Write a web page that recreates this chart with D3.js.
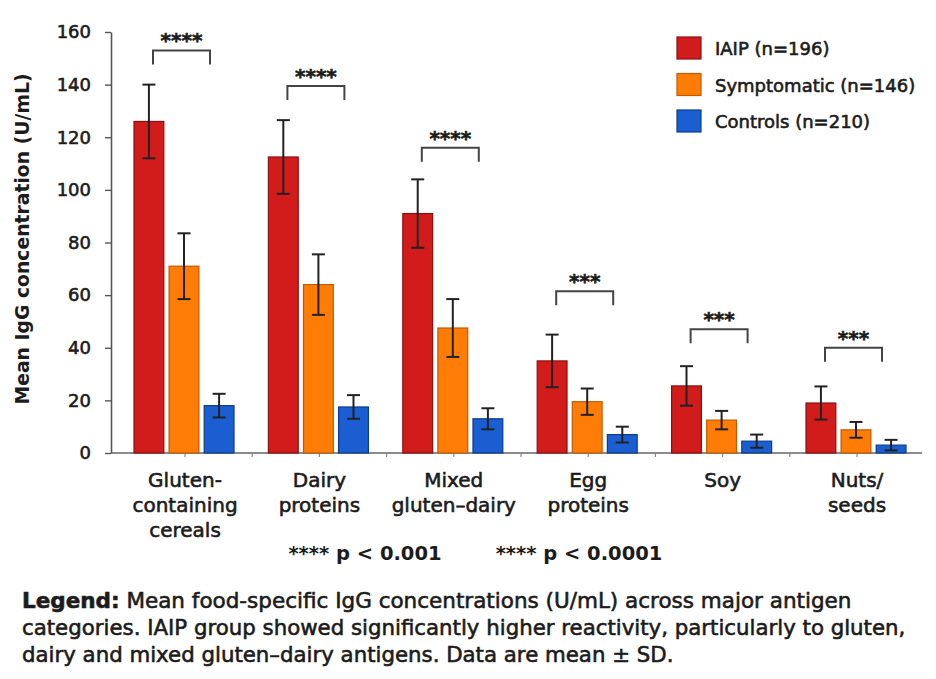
<!DOCTYPE html>
<html>
<head>
<meta charset="utf-8">
<script src="https://cdn.jsdelivr.net/npm/d3@7"></script>
<style>
  body { margin: 0; background: #fff; }
  text { font-family: "DejaVu Sans", sans-serif; fill: #1c1c1c; }
  .med { paint-order: stroke; stroke: #1c1c1c; stroke-width: 0.6px; }
</style>
</head>
<body>
<script>
// datos
const categorias = ["Gluten-containing cereals", "Dairy proteins", "Mixed gluten–dairy", "Egg proteins", "Soy", "Nuts/seeds"];
const etiquetas = [["Gluten-", "containing", "cereals"], ["Dairy", "proteins"], ["Mixed", "gluten–dairy"], ["Egg", "proteins"], ["Soy"], ["Nuts/", "seeds"]];
const series = ["IAIP (n=196)", "Symptomatic (n=146)", "Controls (n=210)"];
const iaipMedia = [126, 112.5, 91, 35, 25.5, 19];
const iaipDE = [14, 14, 13, 10, 7.5, 6.3];
const sintMedia = [71, 64, 47.5, 19.5, 12.5, 8.8];
const sintDE = [12.5, 11.5, 11, 5, 3.5, 3];
const ctrlMedia = [18, 17.5, 13, 7, 4.5, 3];
const ctrlDE = [4.5, 4.5, 4, 3, 2.5, 2];
const corchetes = [153, 139.5, 116, 61.5, 47, 40];
const estrellas = ["****", "****", "****", "***", "***", "***"];
const ticksY = [0, 20, 40, 60, 80, 100, 120, 140, 160];
const notaP = ["**** p < 0.001", "**** p < 0.0001"];
const leyendaTexto = [
    "Mean food-specific IgG concentrations (U/mL) across major antigen",
    "categories. IAIP group showed significantly higher reactivity, particularly to gluten,",
    "dairy and mixed gluten–dairy antigens. Data are mean ± SD."
];

const WIDTH = 936;
const HEIGHT = 679;
const MARGIN = { top: 32, right: 11, bottom: 226, left: 111 };

const colores = ["#d21c1c", "#ff7c06", "#1a5ed2"];
const bordes = ["#8c1010", "#c25a00", "#0d3c8e"];

const medias = [iaipMedia, sintMedia, ctrlMedia];
const desvios = [iaipDE, sintDE, ctrlDE];

const svg = d3.select("body")
    .append("svg")
    .attr("width", WIDTH)
    .attr("height", HEIGHT);

const g = svg.append("g")
    .attr("transform", `translate(${MARGIN.left} 0)`);

const x = d3.scaleBand()
    .domain(categorias)
    .range([6.8, 813.2])
    .padding(0);

const xInterno = d3.scaleBand()
    .domain(series)
    .range([-51, 49])
    .paddingInner(0.15);

const y = d3.scaleLinear()
    .domain([0, 160])
    .range([HEIGHT - MARGIN.bottom, MARGIN.top]);

const centro = (c) => x(c) + x.bandwidth() / 2;

// eje y
const ejeY = g.append("g")
    .call(d3.axisLeft(y).tickValues(ticksY).tickSize(6).tickPadding(14).tickSizeOuter(0));
ejeY.select(".domain").attr("stroke", "#555").attr("stroke-width", 1.6);
ejeY.selectAll(".tick line").attr("stroke", "#555").attr("stroke-width", 1.4);
ejeY.selectAll(".tick text")
    .attr("class", "med")
    .attr("font-size", 18)
    .attr("fill", "#1c1c1c");

// eje x: línea base y marcas
g.append("line")
    .attr("x1", 0)
    .attr("x2", x.range()[1] - 2)
    .attr("y1", y(0))
    .attr("y2", y(0))
    .attr("stroke", "#666")
    .attr("stroke-width", 1.6);

const marcas = categorias.map(centro).concat(categorias.slice(1).map((c) => x(c)));
g.selectAll(".marca")
    .data(marcas)
    .join("line")
    .attr("class", "marca")
    .attr("x1", (d) => d)
    .attr("x2", (d) => d)
    .attr("y1", y(0))
    .attr("y2", y(0) + 4)
    .attr("stroke", "#888")
    .attr("stroke-width", 1.2);

// barras
const datosBarras = [];
categorias.forEach((c, i) => {
    series.forEach((s, j) => {
        datosBarras.push({ cat: c, serie: s, j: j, media: medias[j][i], de: desvios[j][i] });
    });
});

const grupos = g.selectAll(".barra")
    .data(datosBarras)
    .join("g")
    .attr("class", "barra")
    .attr("transform", (d) => `translate(${centro(d.cat) + xInterno(d.serie)} 0)`);

grupos.append("rect")
    .attr("x", 0)
    .attr("y", (d) => y(d.media))
    .attr("width", xInterno.bandwidth())
    .attr("height", (d) => y(0) - y(d.media))
    .attr("fill", (d) => colores[d.j])
    .attr("stroke", (d) => bordes[d.j])
    .attr("stroke-width", 1.2);

// barras de error
const bw = xInterno.bandwidth();
grupos.append("line")
    .attr("x1", bw / 2)
    .attr("x2", bw / 2)
    .attr("y1", (d) => y(d.media + d.de))
    .attr("y2", (d) => y(d.media - d.de))
    .attr("stroke", "#222")
    .attr("stroke-width", 2);

grupos.selectAll(".tapa")
    .data((d) => [d.media + d.de, d.media - d.de])
    .join("line")
    .attr("class", "tapa")
    .attr("x1", bw / 2 - 6.5)
    .attr("x2", bw / 2 + 6.5)
    .attr("y1", (d) => y(d))
    .attr("y2", (d) => y(d))
    .attr("stroke", "#222")
    .attr("stroke-width", 2);

// corchetes de significancia
g.selectAll(".corchete")
    .data(categorias)
    .join("path")
    .attr("class", "corchete")
    .attr("d", (c, i) => {
        const x0 = centro(c) - 32;
        const x1 = centro(c) + 25;
        const yt = y(corchetes[i]);
        return `M${x0},${yt + 14}V${yt}H${x1}V${yt + 14}`;
    })
    .attr("fill", "none")
    .attr("stroke", "#444")
    .attr("stroke-width", 2);

g.selectAll(".estrellas")
    .data(categorias)
    .join("text")
    .attr("class", "estrellas med")
    .attr("x", (c) => centro(c) - 3.5)
    .attr("y", (c, i) => y(corchetes[i]) - 3)
    .attr("text-anchor", "middle")
    .attr("font-size", 20)
    .attr("font-weight", "bold")
    .text((c, i) => estrellas[i]);

// etiquetas de categorías
g.selectAll(".etiqueta")
    .data(categorias)
    .join("text")
    .attr("class", "etiqueta med")
    .attr("text-anchor", "middle")
    .attr("font-size", 20)
    .attr("x", (c) => centro(c))
    .attr("y", y(0) + 34)
    .selectAll("tspan")
    .data((c, i) => etiquetas[i])
    .join("tspan")
    .attr("x", function () { return this.parentNode.getAttribute("x"); })
    .attr("dy", (d, k) => k === 0 ? 0 : 25)
    .text((d) => d);

// título eje y
svg.append("text")
    .attr("transform", "translate(29 239) rotate(-90)")
    .attr("text-anchor", "middle")
    .attr("font-size", 18.8)
    .attr("font-weight", "bold")
    .text("Mean IgG concentration (U/mL)");

// leyenda
const leyenda = svg.append("g")
    .attr("transform", "translate(677 37)");

const items = leyenda.selectAll(".item")
    .data(series)
    .join("g")
    .attr("class", "item")
    .attr("transform", (d, i) => `translate(0 ${i * 36.5})`);

items.append("rect")
    .attr("width", 24)
    .attr("height", 22)
    .attr("fill", (d, i) => colores[i])
    .attr("stroke", (d, i) => bordes[i])
    .attr("stroke-width", 1.2);

items.append("text")
    .attr("class", "med")
    .attr("x", 38)
    .attr("y", 18)
    .attr("font-size", 18)
    .text((d) => d);

// notas de p
svg.selectAll(".notaP")
    .data(notaP)
    .join("text")
    .attr("class", "notaP")
    .attr("x", (d, i) => [365, 579][i])
    .attr("y", 560)
    .attr("text-anchor", "middle")
    .attr("font-size", 19.5)
    .attr("font-weight", "bold")
    .text((d) => d);

// texto de leyenda inferior
const nota = svg.append("text")
    .attr("class", "med")
    .attr("x", 22)
    .attr("y", 608)
    .attr("font-size", 21.5);

nota.append("tspan")
    .attr("font-weight", "bold")
    .text("Legend:");
nota.append("tspan")
    .text(" " + leyendaTexto[0]);

svg.selectAll(".notaLinea")
    .data(leyendaTexto.slice(1))
    .join("text")
    .attr("class", "notaLinea med")
    .attr("x", 22)
    .attr("y", (d, i) => 635 + i * 27)
    .attr("font-size", 21.3)
    .text((d) => d);
</script>
</body>
</html>
